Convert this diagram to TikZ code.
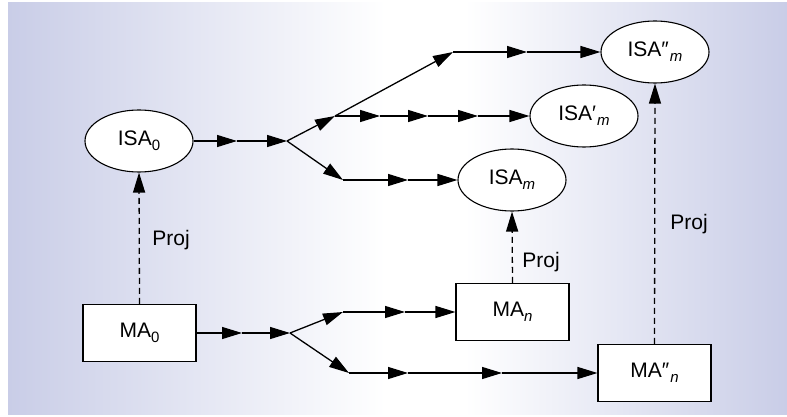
\documentclass[tikz,border=0pt]{standalone}
\usepackage{fontspec}
\setmainfont{Liberation Sans}
\usetikzlibrary{arrows.meta,shapes.geometric}
\definecolor{panel}{RGB}{201,205,231}
% index set lower and a little larger than \textsubscript
\newcommand{\lowidx}[1]{\raisebox{-0.25em}{\fontsize{15}{15}\selectfont #1}}
\begin{document}
\begin{tikzpicture}[x=1pt,y=-1pt,
  every node/.style={font=\fontsize{21}{25}\selectfont},
  state/.style={ellipse,draw,fill=white,line width=1.1pt,minimum width=108pt,minimum height=62pt,inner sep=0pt},
  model/.style={rectangle,draw,fill=white,line width=1.1pt,minimum width=113pt,minimum height=57pt,inner sep=0pt},
  flow/.style={line width=1.3pt,-{Triangle[length=20pt,width=12pt]}},
  proj/.style={flow,dash pattern=on 6pt off 4pt},
  projlabel/.style={inner sep=0pt}]
\useasboundingbox (0,0) rectangle (787,417);
% background panel: blue-grey at the sides, white in the middle
\fill[left color=panel,right color=white] (8,3) rectangle (385.5,414);
\fill[white] (385,3) rectangle (465,414);
\fill[left color=white,right color=panel] (464.5,3) rectangle (787,414);

% states
\node[state] (isa0) at (139,141) {ISA\lowidx{0}};
\node[state] (isa2) at (655,52) {ISA\char"2033\kern1pt\lowidx{\itshape m}};
\node[state] (isa1) at (584,116) {ISA\char"2032\kern1pt\lowidx{\itshape m}};
\node[state] (isam) at (512,180) {ISA\lowidx{\itshape m}};

% models
\node[model] (ma0) at (139.5,333) {MA\lowidx{0}};
\node[model] (man) at (512.5,312) {MA\lowidx{\itshape n}};
\node[model] (ma2) at (654.5,373) {MA\char"2033\kern1pt\lowidx{\itshape n}};

% waypoints of the upper flow
\coordinate (a1) at (237,141);
\coordinate (s1) at (287,141);
\coordinate (b1) at (335,116);
\coordinate (c1) at (453,52);
\coordinate (c2) at (527,52);
\coordinate (d1) at (380,116);
\coordinate (d2) at (428,116);
\coordinate (d3) at (478,116);
\coordinate (e1) at (343,180);
\coordinate (e2) at (408,180);

% waypoints of the lower flow
\coordinate (f1) at (242,333);
\coordinate (s2) at (290,333);
\coordinate (g1) at (343,312);
\coordinate (g2) at (405,312);
\coordinate (h1) at (349,373);
\coordinate (h2) at (408,373);
\coordinate (h3) at (502,373);

% upper flow
\draw[flow] (isa0.east) -- (a1);
\draw[flow] (a1) -- (s1);
\draw[flow] (s1) -- (b1);
\draw[flow] (b1) -- (c1);
\draw[flow] (c1) -- (c2);
\draw[flow] (c2) -- (isa2.west);
\draw[flow] (b1) -- (d1);
\draw[flow] (d1) -- (d2);
\draw[flow] (d2) -- (d3);
\draw[flow] (d3) -- (isa1.west);
\draw[flow] (s1) -- (e1);
\draw[flow] (e1) -- (e2);
\draw[flow] (e2) -- (isam.west);

% lower flow
\draw[flow] (ma0.east) -- (f1);
\draw[flow] (f1) -- (s2);
\draw[flow] (s2) -- (g1);
\draw[flow] (g1) -- (g2);
\draw[flow] (g2) -- (man.west);
\draw[flow] (s2) -- (h1);
\draw[flow] (h1) -- (h2);
\draw[flow] (h2) -- (h3);
\draw[flow] (h3) -- (ma2.west);

% projections
\draw[proj] (ma0.north) -- (isa0.south);
\draw[proj] (man.north) -- (isam.south);
\draw[proj] (ma2.north) -- (isa2.south);
\node[projlabel] (p0) at (171,240) {Proj};
\node[projlabel] (pn) at (541,262) {Proj};
\node[projlabel] (p2) at (689,224) {Proj};
\end{tikzpicture}
\end{document}
